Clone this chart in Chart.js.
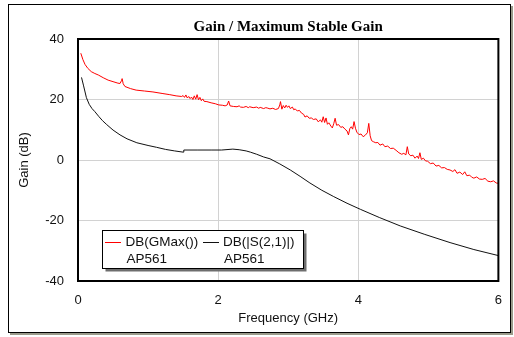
<!DOCTYPE html>
<html>
<head>
<meta charset="utf-8">
<script src="https://cdn.jsdelivr.net/npm/chart.js@4/dist/chart.umd.min.js"></script>
<style>
html,body{margin:0;padding:0;background:#fff;}
#wrap{width:514px;height:337px;position:relative;}
</style>
</head>
<body>
<div id="wrap"><canvas id="c" width="514" height="337"></canvas></div>
<script>
// ---- data ----
const chartTitle = "Gain / Maximum Stable Gain";
const xTitle = "Frequency (GHz)";
const yTitle = "Gain (dB)";
const xTicks = [0, 2, 4, 6];
const yTicks = [-40, -20, 0, 20, 40];
const seriesNames = ["DB(GMax())", "DB(|S(2,1)|)"];
const seriesSource = ["AP561", "AP561"];
const seriesColors = ["#ff0000", "#111111"];

const gmaxFreq = [0.04,0.07,0.10,0.14,0.19,0.24,0.29,0.36,0.43,0.50,0.57,0.60,0.62,0.63,0.645,0.67,0.75,0.83,0.95,1.07,1.20,1.31,1.40,1.48,1.50,1.52,1.54,1.56,1.58,1.60,1.62,1.64,1.66,1.68,1.70,1.72,1.74,1.76,1.78,1.80,1.84,1.90,1.96,2.01,2.06,2.10,2.13,2.15,2.17,2.22,2.27,2.30,2.32,2.36,2.40,2.43,2.45,2.50,2.55,2.58,2.60,2.65,2.68,2.70,2.74,2.78,2.82,2.86,2.88,2.89,2.91,2.93,2.95,2.97,2.99,3.01,3.03,3.06,3.08,3.10,3.13,3.16,3.19,3.22,3.24,3.27,3.30,3.33,3.36,3.40,3.43,3.46,3.48,3.50,3.52,3.54,3.56,3.58,3.61,3.63,3.65,3.67,3.69,3.72,3.75,3.78,3.81,3.84,3.86,3.88,3.90,3.92,3.94,3.96,3.98,4.01,4.04,4.07,4.10,4.13,4.15,4.17,4.19,4.22,4.25,4.28,4.31,4.35,4.38,4.42,4.46,4.50,4.54,4.58,4.62,4.65,4.68,4.70,4.72,4.75,4.78,4.81,4.84,4.86,4.88,4.90,4.93,4.96,4.99,5.03,5.07,5.11,5.15,5.19,5.23,5.27,5.31,5.35,5.38,5.41,5.45,5.49,5.52,5.55,5.59,5.62,5.65,5.69,5.73,5.77,5.81,5.85,5.89,5.93,5.97,6.00];
const gmaxDb = [35.3,33.2,31.6,30.3,29.2,28.6,28.1,27.2,26.4,25.9,25.4,25.3,26.2,26.9,25.2,24.3,23.6,23.1,22.8,22.5,22.0,21.6,21.2,21.0,21.3,20.7,21.5,20.5,21.0,20.3,20.8,20.0,21.2,20.1,21.6,19.9,20.7,19.6,20.2,19.4,19.3,18.9,18.6,18.2,18.1,17.9,18.2,19.5,17.9,17.7,17.6,17.9,17.5,17.4,17.7,17.3,17.6,17.3,17.5,17.1,17.4,17.0,17.3,17.2,16.9,17.1,16.7,17.0,18.2,19.3,16.8,18.0,17.2,18.1,17.4,17.9,17.0,17.5,16.6,16.9,16.2,16.4,15.5,15.1,14.2,14.6,13.8,13.9,13.4,13.6,12.6,13.3,12.5,14.3,12.4,13.9,11.8,12.3,11.2,10.6,12.0,13.8,11.5,11.7,10.8,11.0,10.2,9.6,8.3,10.4,11.0,10.2,12.7,10.5,9.2,8.4,8.6,7.7,8.2,9.0,12.1,8.0,6.4,6.0,5.7,5.8,4.9,5.3,4.4,4.6,3.8,3.9,3.2,2.4,1.9,2.2,1.7,4.4,2.0,1.4,1.6,0.6,1.3,0.5,2.4,0.2,0.6,-0.3,-0.4,-1.2,-1.0,-2.0,-1.8,-2.6,-2.5,-3.1,-3.3,-3.8,-3.2,-4.4,-4.0,-4.8,-3.9,-5.2,-5.0,-5.7,-6.0,-5.6,-6.3,-6.4,-6.1,-7.0,-7.2,-6.9,-7.6,-7.7];

const s21Freq = [0.05,0.08,0.12,0.16,0.20,0.24,0.30,0.35,0.41,0.50,0.60,0.70,0.84,1.00,1.12,1.25,1.38,1.50,1.51,1.70,1.90,2.05,2.21,2.30,2.40,2.46,2.55,2.65,2.74,2.88,3.03,3.17,3.31,3.48,3.65,3.84,4.03,4.30,4.60,4.95,5.31,5.65,6.00];
const s21Db = [27.3,24.5,20.6,18.4,17.0,16.0,14.3,13.0,11.7,9.9,8.3,7.0,5.7,4.8,4.2,3.5,3.0,2.6,3.3,3.3,3.3,3.3,3.6,3.4,3.0,2.6,1.9,1.0,0.4,-1.3,-3.3,-5.4,-7.6,-10.0,-12.1,-14.3,-16.3,-19.0,-21.8,-24.6,-27.3,-29.6,-31.6];

const SANS = "'Liberation Sans', Arial, sans-serif";
const SERIF = "'Liberation Serif', 'Times New Roman', serif";

const toPts = (xs, ys) => xs.map((x, i) => ({x: x, y: ys[i]}));

const framePlugin = {
  id: 'frame',
  beforeDraw(chart) {
    const ctx = chart.ctx;
    ctx.save();
    ctx.fillStyle = '#ffffff';
    ctx.fillRect(0, 0, chart.width, chart.height);
    ctx.fillStyle = '#9a9a8a';
    ctx.fillRect(10, 333, 503, 2);
    ctx.fillRect(511, 6, 2, 329);
    ctx.strokeStyle = '#000';
    ctx.lineWidth = 1;
    ctx.strokeRect(8.5, 4.5, 502, 328);
    ctx.fillStyle = '#000';
    ctx.font = "bold 15px " + SERIF;
    ctx.textAlign = 'center';
    ctx.textBaseline = 'middle';
    const a = chart.chartArea;
    ctx.fillText(chartTitle, (a.left + a.right) / 2, 27);
    ctx.restore();
  },
  afterDatasetsDraw(chart) {
    const ctx = chart.ctx;
    const a = chart.chartArea;
    ctx.save();
    ctx.strokeStyle = '#000';
    ctx.lineWidth = 2;
    ctx.strokeRect(a.left, a.top, a.right - a.left, a.bottom - a.top);
    const bx = 102.5, by = 230.5, bw = 201, bh = 38;
    ctx.fillStyle = '#6e6e6e';
    ctx.fillRect(bx + 3, by + 3, bw, bh);
    ctx.fillStyle = '#fff';
    ctx.fillRect(bx, by, bw, bh);
    ctx.lineWidth = 1;
    ctx.strokeStyle = '#000';
    ctx.strokeRect(bx, by, bw, bh);
    const cols = [{lx: 105, tx: 125.5}, {lx: 203, tx: 223}];
    ctx.font = "13.5px " + SANS;
    ctx.textBaseline = 'middle';
    ctx.textAlign = 'left';
    chart.data.datasets.forEach((ds, i) => {
      const c = cols[i];
      ctx.strokeStyle = ds.borderColor;
      ctx.lineWidth = 1;
      ctx.beginPath();
      ctx.moveTo(c.lx, 242.5);
      ctx.lineTo(c.lx + 16, 242.5);
      ctx.stroke();
      ctx.fillStyle = '#111';
      ctx.fillText(ds.label, c.tx, 242.5);
      ctx.fillText(seriesSource[i], c.tx + 1, 259.5);
    });
    ctx.restore();
  }
};

new Chart(document.getElementById('c'), {
  type: 'line',
  data: {
    datasets: [
      {label: seriesNames[0], data: toPts(gmaxFreq, gmaxDb), borderColor: seriesColors[0], borderWidth: 1, pointRadius: 0, tension: 0, fill: false},
      {label: seriesNames[1], data: toPts(s21Freq, s21Db), borderColor: seriesColors[1], borderWidth: 1, pointRadius: 0, tension: 0, fill: false}
    ]
  },
  options: {
    responsive: false,
    animation: false,
    devicePixelRatio: 1,
    layout: {padding: {left: 0, right: 15, top: 39, bottom: 0}},
    plugins: {legend: {display: false}, title: {display: false}, tooltip: {enabled: false}},
    scales: {
      x: {
        type: 'linear', min: 0, max: 6,
        afterFit(s) { s.height = 56; },
        afterBuildTicks(s) { s.ticks = xTicks.map(v => ({value: v})); },
        grid: {color: '#d2d2d2', lineWidth: 1, drawTicks: false},
        border: {display: false},
        ticks: {font: {family: SANS, size: 13}, color: '#111', padding: 12, maxRotation: 0},
        title: {display: true, text: xTitle, font: {family: SANS, size: 13}, color: '#111', padding: {top: 0, bottom: 11}}
      },
      y: {
        type: 'linear', min: -40, max: 40,
        afterFit(s) { s.width = 78; },
        afterBuildTicks(s) { s.ticks = yTicks.map(v => ({value: v})); },
        grid: {color: '#d2d2d2', lineWidth: 1, drawTicks: false},
        border: {display: false},
        ticks: {font: {family: SANS, size: 13}, color: '#111', padding: 14},
        title: {display: true, text: yTitle, font: {family: SANS, size: 13}, color: '#111', padding: {top: 17, bottom: 0}}
      }
    }
  },
  plugins: [framePlugin]
});
</script>
</body>
</html>
